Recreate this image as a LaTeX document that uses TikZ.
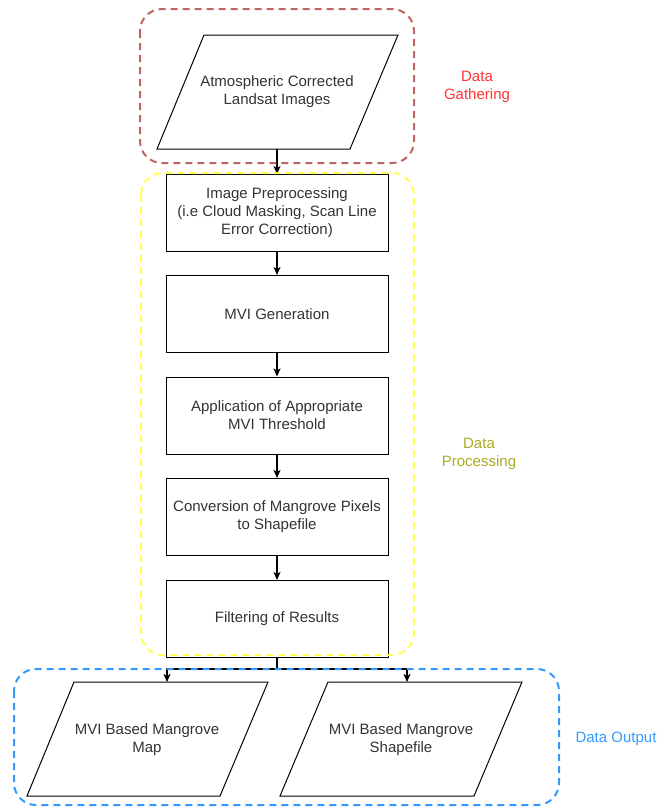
\documentclass[tikz,border=0pt]{standalone}
\usepackage{fontspec}
\setmainfont{Liberation Sans}
\usetikzlibrary{arrows.meta}
\definecolor{txtgray}{HTML}{333333}
\definecolor{grpred}{HTML}{B85450}
\definecolor{grpyel}{HTML}{FFFF55}
\definecolor{grpblue}{HTML}{3399FF}
\definecolor{lblred}{HTML}{FF3333}
\definecolor{lblolive}{HTML}{AAAA22}
\begin{document}
\begin{tikzpicture}[x=1pt,y=-1pt,
  txt/.style={font=\fontsize{15pt}{18pt}\selectfont,text=txtgray,align=center,inner sep=0pt},
  stepbox/.style={draw=black,line width=1pt,minimum width=222pt,minimum height=77pt,txt},
  para/.style={draw=black,line width=1pt,line join=miter},
  flow/.style={line width=1.5pt,-{Stealth[length=8pt,width=7pt,inset=2pt]}},
  grp/.style={line width=2pt,dash pattern=on 7pt off 5pt,rounded corners=22pt},
  lbl/.style={font=\fontsize{15pt}{18pt}\selectfont,align=center,inner sep=0pt}]
\useasboundingbox (0,0) rectangle (671,807);
% parallelograms
\draw[para] (204,35) -- (398,35) -- (350,149) -- (157,149) -- cycle;
\node[txt] (src) at (277,92) {Atmospheric Corrected\\Landsat Images};
\coordinate (srcb) at (277,149);
\draw[para] (74,682) -- (268,682) -- (220,796) -- (27,796) -- cycle;
\node[txt] (map) at (147,740) {MVI Based Mangrove\\Map};
\coordinate (mapin) at (167,682);
\draw[para] (328,682) -- (522,682) -- (474,796) -- (280,796) -- cycle;
\node[txt] (shp) at (401,740) {MVI Based Mangrove\\Shapefile};
\coordinate (shpin) at (407,682);
% process boxes
\node[stepbox] (pre) at (277,213) {Image Preprocessing\\(i.e Cloud Masking, Scan Line\\Error Correction)};
\node[stepbox] (gen) at (277,314) {MVI Generation};
\node[stepbox] (thr) at (277,415.5) {Application of Appropriate\\MVI Threshold};
\node[stepbox] (conv) at (277,517) {Conversion of Mangrove Pixels\\to Shapefile};
\node[stepbox] (filt) at (277,619) {Filtering of Results};
% connectors
\draw[flow] (srcb) -- (pre.north);
\draw[flow] (pre) -- (gen);
\draw[flow] (gen) -- (thr);
\draw[flow] (thr) -- (conv);
\draw[flow] (conv) -- (filt);
\coordinate (split) at (277,669);
\draw[line width=1.5pt] (filt.south) -- (split);
\draw[flow] (split) -| (mapin);
\draw[flow] (split) -| (shpin);
% group boxes
\draw[grp,draw=grpred,opacity=0.9] (140,9) rectangle (414,163);
\draw[grp,draw=grpyel] (141,173) rectangle (414,655);
\draw[grp,draw=grpblue] (14,669) rectangle (559,805);
% labels
\node[lbl,text=lblred] (lg) at (477,87) {Data\\Gathering};
\node[lbl,text=lblolive] (lp) at (479,454) {Data\\Processing};
\node[lbl,text=grpblue] (lo) at (616,739) {Data Output};
\end{tikzpicture}
\end{document}
